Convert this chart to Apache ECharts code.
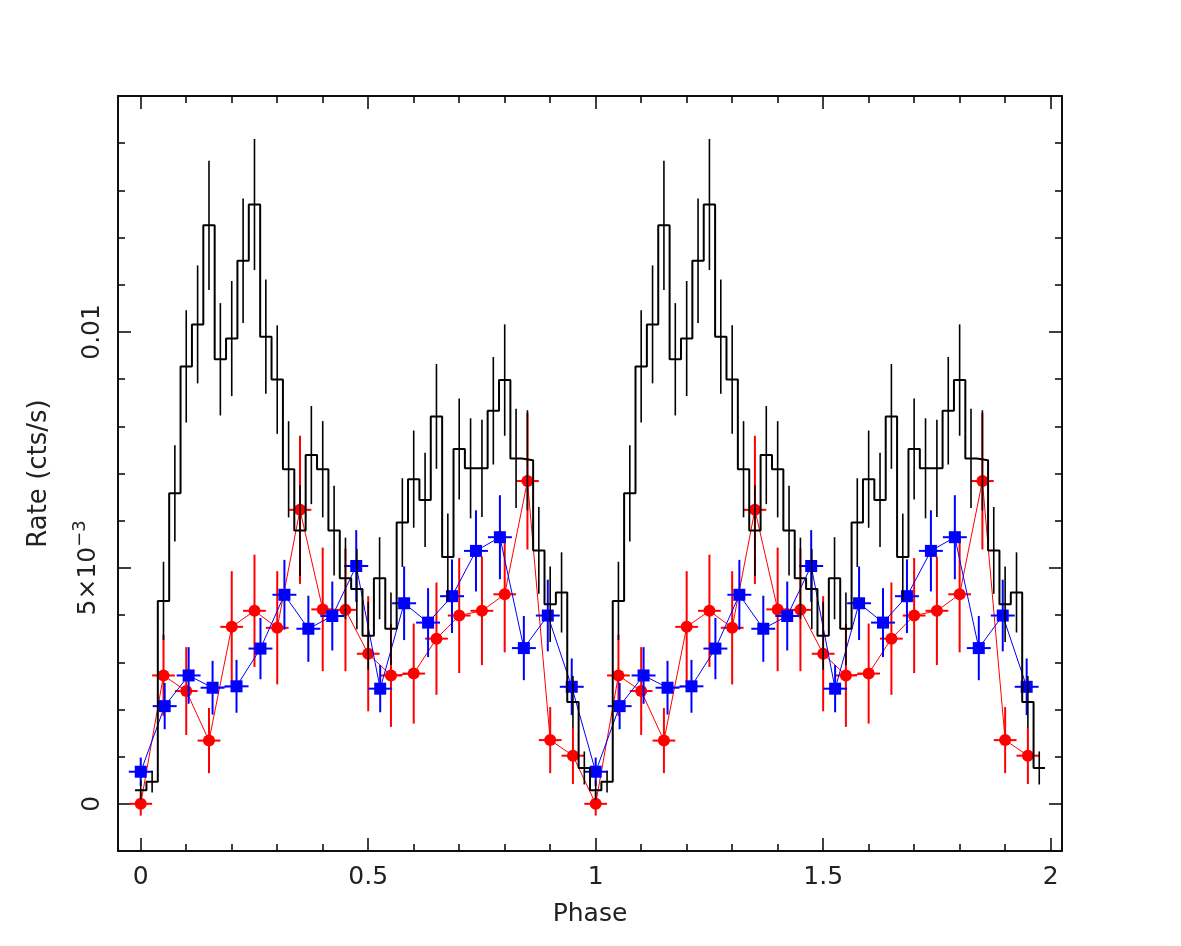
<!DOCTYPE html>
<html><head><meta charset="utf-8">
<script src="https://cdn.jsdelivr.net/npm/echarts@6/dist/echarts.min.js"></script>
<style>html,body{margin:0;padding:0;background:#fff}#c{width:1181px;height:946px}</style>
</head><body><div id="c"></div>
<script>
// Rates are given in units of 1e-3 cts/s
const RATE_UNIT = 1e-3;
const CYCLES = 2;

// Black histogram: 40 phase bins per cycle (centres k/40)
const blackRate = [0.29,0.47,4.30,6.58,9.27,10.16,12.26,9.42,9.86,11.51,12.70,9.90,8.99,7.09,5.79,7.39,7.09,5.79,4.78,4.55,
                   3.56,4.78,3.71,5.96,6.88,6.44,8.21,5.23,7.52,7.11,7.11,8.33,8.98,7.32,7.28,5.37,4.23,4.48,2.16,0.76];
const blackErr  = [0.20,0.23,0.83,1.02,1.19,1.25,1.37,1.19,1.22,1.32,1.39,1.21,1.15,1.02,0.96,1.04,1.02,0.95,0.86,0.85,
                   0.72,0.87,0.77,0.94,1.03,1.00,1.11,0.92,1.07,1.06,1.03,1.14,1.18,1.05,1.06,0.92,0.80,0.85,0.55,0.35];

// Red points: 20 phase bins per cycle (centres k/20)
const redRate = [0.00,2.72,2.39,1.34,3.75,4.09,3.73,6.23,4.12,4.11,3.18,2.72,2.76,3.50,3.99,4.09,4.44,6.84,1.35,1.02];
const redErr  = [0.25,0.86,0.93,0.69,1.18,1.19,1.20,1.57,1.31,1.30,1.22,1.09,1.06,1.19,1.22,1.15,1.23,1.45,0.70,0.60];

// Blue points: 19 phase bins per cycle (centres k/19)
const blueRate = [0.68,2.07,2.72,2.46,2.49,3.29,4.43,3.71,3.98,5.04,2.44,4.25,3.84,4.40,5.36,5.65,3.30,3.99,2.48];
const blueErr  = [0.30,0.49,0.60,0.57,0.56,0.65,0.74,0.70,0.73,0.76,0.50,0.78,0.73,0.78,0.86,0.89,0.68,0.76,0.60];

// Axis ticks
const xMajorTicks = [0, 0.5, 1, 1.5, 2];
const xMinorTicks = [0.1,0.2,0.3,0.4,0.6,0.7,0.8,0.9,1.1,1.2,1.3,1.4,1.6,1.7,1.8,1.9];
const yMajorTicks = [0, 0.005, 0.01];
const yMinorTicks = [0.001,0.002,0.003,0.004,0.006,0.007,0.008,0.009,0.011,0.012,0.013,0.014];
const yTickLabels = {'0': '0', '0.005': '{m|5×10}{s|−3}', '0.01': '0.01'};

const X_MIN = -0.05, X_MAX = 2.025, Y_MIN = -0.001, Y_MAX = 0.015;

function folded(rates, errs, nBins, withHalfWidth) {
  const out = [];
  for (let c = 0; c < CYCLES; c++) {
    for (let k = 0; k < nBins; k++) {
      out.push([c + k / nBins, rates[k] * RATE_UNIT, errs[k] * RATE_UNIT, withHalfWidth ? 0.5 / nBins : 0]);
    }
  }
  return out;
}
const blackPts = folded(blackRate, blackErr, blackRate.length, false);
const redPts = folded(redRate, redErr, redRate.length, true);
const bluePts = folded(blueRate, blueErr, blueRate.length, true);

// histogram: left bin edges + closing right edge
const hw = 0.5 / blackRate.length;
const blackStep = blackPts.map(p => [p[0] - hw, p[1]]);
blackStep.push([blackPts[blackPts.length - 1][0] + hw, blackPts[blackPts.length - 1][1]]);

function errRender(color, lw) {
  return function (params, api) {
    const x = api.value(0), y = api.value(1), e = api.value(2), h = api.value(3);
    const t = api.coord([x, y + e]), b = api.coord([x, y - e]);
    const ch = [{type: 'line', shape: {x1: t[0], y1: t[1], x2: b[0], y2: b[1]}, style: {stroke: color, lineWidth: lw}}];
    if (h > 0) {
      const l = api.coord([x - h, y]), r = api.coord([x + h, y]);
      ch.push({type: 'line', shape: {x1: l[0], y1: l[1], x2: r[0], y2: r[1]}, style: {stroke: color, lineWidth: lw}});
    }
    return {type: 'group', children: ch};
  };
}

const FONT = 'DejaVu Sans';
const TXT = '#222';
const lineStyle = {color: '#000', width: 1.5};
function xAx(pos, ticks, len, labels) {
  return {
    type: 'value', position: pos, min: X_MIN, max: X_MAX,
    axisLine: {show: true, onZero: false, lineStyle},
    axisTick: {show: true, inside: true, length: len, customValues: ticks, lineStyle: {color: '#000', width: 1.5}},
    axisLabel: labels ? {show: true, customValues: ticks, margin: 14, color: TXT, fontFamily: FONT, fontSize: 25,
      formatter: v => String(v)} : {show: false},
    splitLine: {show: false}
  };
}
function yAx(pos, ticks, len, labels) {
  return {
    type: 'value', position: pos, min: Y_MIN, max: Y_MAX,
    axisLine: {show: true, onZero: false, lineStyle},
    axisTick: {show: true, inside: true, length: len, customValues: ticks, lineStyle: {color: '#000', width: 1.5}},
    axisLabel: labels ? {show: true, customValues: ticks, rotate: 90, margin: 13, color: TXT, fontFamily: FONT, fontSize: 25,
      formatter: v => yTickLabels[String(+v.toFixed(6))] ?? String(v),
      rich: {m: {fontFamily: FONT, fontSize: 25, color: TXT, lineHeight: 34},
             s: {fontFamily: FONT, fontSize: 18, color: TXT, verticalAlign: 'top', lineHeight: 34}}} : {show: false},
    splitLine: {show: false}
  };
}

const chart = echarts.init(document.getElementById('c'), null, {renderer: 'canvas'});
chart.setOption({
  animation: false,
  backgroundColor: '#fff',
  grid: {left: 118, right: 119, top: 96, bottom: 95, outerBoundsMode: 'none'},
  xAxis: [
    Object.assign(xAx('bottom', xMajorTicks, 13, true), {name: 'Phase', nameLocation: 'middle', nameGap: 51,
      nameTextStyle: {fontFamily: FONT, fontSize: 25, color: TXT}}),
    xAx('bottom', xMinorTicks, 7, false),
    xAx('top', xMajorTicks, 13, false),
    xAx('top', xMinorTicks, 7, false)
  ],
  yAxis: [
    Object.assign(yAx('left', yMajorTicks, 13, true), {name: 'Rate (cts/s)', nameLocation: 'middle', nameGap: 66, nameRotate: 90,
      nameTextStyle: {fontFamily: FONT, fontSize: 26, color: TXT}}),
    yAx('left', yMinorTicks, 7, false),
    yAx('right', yMajorTicks, 13, false),
    yAx('right', yMinorTicks, 7, false)
  ],
  series: [
    {type: 'line', name: 'red', data: redPts.map(p => [p[0], p[1]]), symbol: 'circle', symbolSize: 12,
     itemStyle: {color: '#ff0000'}, lineStyle: {color: '#ff0000', width: 1}, z: 2},
    {type: 'custom', name: 'redErr', data: redPts, renderItem: errRender('#ff0000', 2), encode: {x: 0, y: 1}, z: 2},
    {type: 'line', name: 'blue', data: bluePts.map(p => [p[0], p[1]]), symbol: 'rect', symbolSize: 12,
     itemStyle: {color: '#0000ff'}, lineStyle: {color: '#0000ff', width: 1}, z: 3},
    {type: 'custom', name: 'blueErr', data: bluePts, renderItem: errRender('#0000ff', 2), encode: {x: 0, y: 1}, z: 3},
    {type: 'line', name: 'black', data: blackStep, step: 'end', symbol: 'none', showSymbol: false,
     lineStyle: {color: '#000', width: 2}, z: 4},
    {type: 'custom', name: 'blackErr', data: blackPts, renderItem: errRender('#000', 1.6), encode: {x: 0, y: 1}, z: 4}
  ]
});
</script></body></html>
